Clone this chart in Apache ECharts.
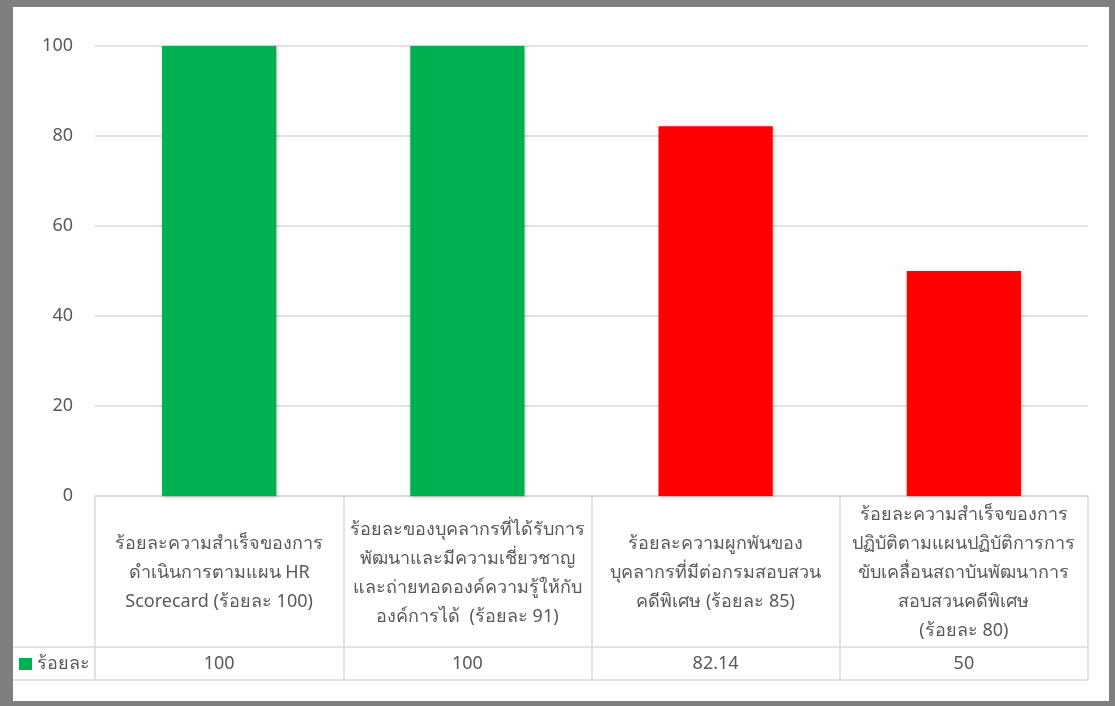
<!DOCTYPE html>
<html>
<head>
<meta charset="utf-8">
<script src="https://cdn.jsdelivr.net/npm/echarts@6/dist/echarts.min.js"></script>
<style>
  html, body { margin: 0; padding: 0; background: #ffffff; }
  #wrap { position: absolute; left: 0; top: 0; width: 1115px; height: 706px; }
  #chart { position: absolute; left: 0; top: 0; width: 1115px; height: 706px; }
  #frame { position: absolute; left: 0; top: 0; width: 1115px; height: 706px; box-sizing: border-box;
           border-style: solid; border-color: #7f7f7f; border-width: 7px 6px 5px 13px; pointer-events: none; }
</style>
</head>
<body>
<div id="wrap"><div id="chart"></div><div id="frame"></div></div>
<script>
const categories = [
  "ร้อยละความสำเร็จของการ\nดำเนินการตามแผน HR\nScorecard (ร้อยละ 100)",
  "ร้อยละของบุคลากรที่ได้รับการ\nพัฒนาและมีความเชี่ยวชาญ\nและถ่ายทอดองค์ความรู้ให้กับ\nองค์การได้  (ร้อยละ 91)",
  "ร้อยละความผูกพันของ\nบุคลากรที่มีต่อกรมสอบสวน\nคดีพิเศษ (ร้อยละ 85)",
  "ร้อยละความสำเร็จของการ\nปฏิบัติตามแผนปฏิบัติการการ\nขับเคลื่อนสถาบันพัฒนาการ\nสอบสวนคดีพิเศษ\n(ร้อยละ 80)"
];
const seriesName = "ร้อยละ";
const values = [100, 100, 82.14, 50];
const barColors = ["#00B050", "#00B050", "#FF0000", "#FF0000"];
const yTicks = [0, 20, 40, 60, 80, 100];

const FONT = "Tahoma, 'Noto Sans', 'DejaVu Sans', sans-serif";
const TXT = "#595959";
const LINE = "#D9D9D9";
const FS = 18;

const chart = echarts.init(document.getElementById('chart'), null, { renderer: 'canvas' });
chart.setOption({
  backgroundColor: '#ffffff',
  animation: false,
  textStyle: { fontFamily: FONT },
  grid: { left: 95, right: 27, top: 46, bottom: 210, containLabel: false },
  legend: {
    left: 14, top: 650,
    itemWidth: 13, itemHeight: 12, itemGap: 4,
    icon: 'rect',
    textStyle: { color: TXT, fontSize: FS, fontFamily: FONT, padding: [0, 0, 0, 0] },
    data: [seriesName]
  },
  xAxis: [
    {
      type: 'category',
      data: categories,
      position: 'bottom',
      axisLine: { show: true, lineStyle: { color: LINE, width: 1.5 } },
      axisTick: { show: true, alignWithLabel: false, length: 184, lineStyle: { color: LINE, width: 1.5 } },
      axisLabel: {
        interval: 0, margin: 77, verticalAlign: 'middle', align: 'center',
        color: TXT, fontSize: FS, lineHeight: 29, fontFamily: FONT
      },
      splitLine: { show: false }
    },
    {
      type: 'category',
      data: values.map(v => String(v)),
      position: 'bottom',
      axisLine: { show: false },
      axisTick: { show: false },
      axisLabel: { interval: 0, margin: 168, verticalAlign: 'middle', color: TXT, fontSize: FS, fontFamily: FONT }
    }
  ],
  yAxis: {
    type: 'value', min: 0, max: 100, interval: 20,
    axisLine: { show: false }, axisTick: { show: false },
    axisLabel: {
      color: TXT, fontSize: FS, margin: 22, fontFamily: FONT,
      formatter: v => (yTicks.indexOf(v) >= 0 ? String(v) : '')
    },
    splitLine: { lineStyle: { color: LINE, width: 1.5 } }
  },
  series: [{
    name: seriesName,
    type: 'bar',
    barWidth: '46%',
    itemStyle: { color: barColors[0], shadowColor: 'rgba(0,0,0,0.25)', shadowBlur: 4, shadowOffsetX: 1, shadowOffsetY: 1 },
    data: values.map((v, i) => ({ value: v, itemStyle: { color: barColors[i] } }))
  }],
  graphic: [
    { type: 'line', shape: { x1: 13, y1: 647, x2: 1088, y2: 647 }, style: { stroke: LINE, lineWidth: 1.5 }, silent: true },
    { type: 'line', shape: { x1: 13, y1: 680, x2: 1088, y2: 680 }, style: { stroke: LINE, lineWidth: 1.5 }, silent: true }
  ]
});
</script>
</body>
</html>
